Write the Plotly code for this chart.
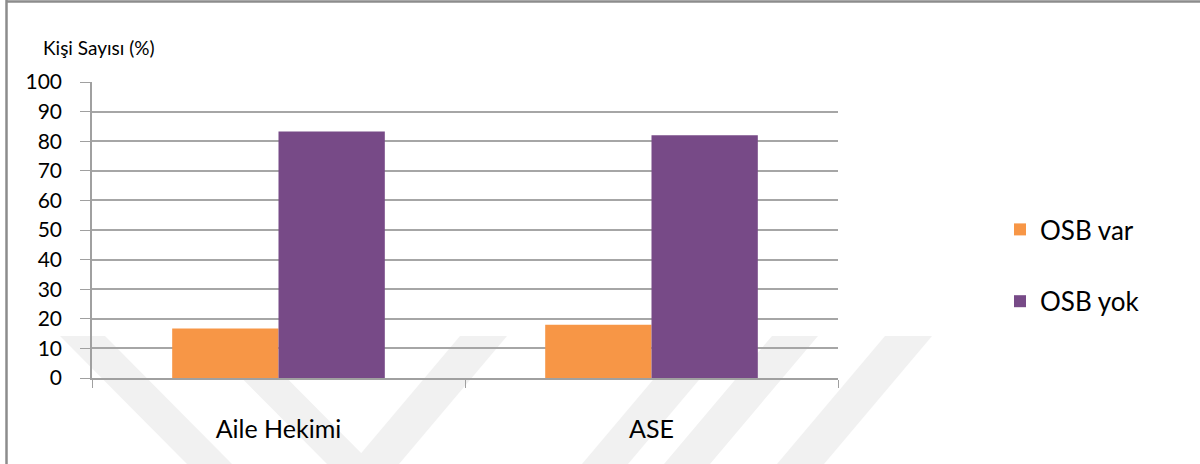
import plotly.graph_objects as go

categories = ["Aile Hekimi", "ASE"]
series_names = ["OSB var", "OSB yok"]
osb_var = [16.7, 18.0]
osb_yok = [83.3, 82.0]
y_ticks = [0, 10, 20, 30, 40, 50, 60, 70, 80, 90, 100]
colors = ["#F79646", "#774A87"]

FONT = "Lato"
W, H = 1200, 464
L, R, T, B = 92, 362, 82, 86
pw, ph = W - L - R, H - T - B

def px(x):
    return (x - L) / pw

def py(y):
    return 1 - (y - T) / ph

fig = go.Figure()
for name, vals, col, grp in zip(series_names, [osb_var, osb_yok], colors, ["a", "b"]):
    fig.add_trace(go.Bar(x=categories, y=vals, name=name, legendgroup=grp,
                         marker=dict(color=col, line=dict(width=0))))

shapes = []
# watermark chevron bands
def band(x_top, x_bot, w):
    return dict(type="path", xref="paper", yref="paper", layer="below",
                path=f"M{px(x_top)},{py(336)} L{px(x_top + w)},{py(336)} L{px(x_bot + w)},{py(464)} L{px(x_bot)},{py(464)} Z",
                fillcolor="#f1f1f1", line=dict(width=0))
shapes += [band(60, 187, 45), band(200, 327, 45), band(460, 352, 47),
           band(690, 582, 46), band(772, 664, 46), band(885, 777, 47)]
# frame lines (top and left)
shapes.append(dict(type="line", xref="paper", yref="paper", x0=px(6.5), x1=px(1200), y0=py(1.5), y1=py(1.5),
                   line=dict(color="#8c8c8c", width=2.5)))
shapes.append(dict(type="line", xref="paper", yref="paper", x0=px(6.5), x1=px(6.5), y0=py(0), y1=py(464),
                   line=dict(color="#8c8c8c", width=2.5)))

fig.update_layout(
    width=W, height=H,
    margin=dict(l=L, r=R, t=T, b=B),
    paper_bgcolor="white", plot_bgcolor="rgba(0,0,0,0)",
    barmode="group", bargap=0.43, bargroupgap=0,
    font=dict(family=FONT, color="#000000"),
    showlegend=True,
    legend=dict(x=px(1000), y=py(206), xanchor="left", yanchor="top",
                traceorder="grouped", tracegroupgap=35,
                font=dict(size=26, family=FONT, color="#000000"),
                bgcolor="rgba(0,0,0,0)"),
    xaxis=dict(showline=True, linecolor="#a0a0a0", linewidth=1.5,
               ticks="outside", tickson="boundaries", ticklen=8, tickcolor="#a0a0a0",
               tickfont=dict(size=25, family=FONT, color="#000000"),
               ticklabelstandoff=28, showgrid=False, fixedrange=True),
    yaxis=dict(range=[0, 100], tickvals=y_ticks, showline=True, linecolor="#a0a0a0", linewidth=1.5,
               ticks="outside", ticklen=10, tickcolor="#a0a0a0",
               showgrid=True, gridcolor="#a6a6a6", gridwidth=1.5, zeroline=False,
               tickfont=dict(size=21, family=FONT, color="#000000"), ticklabelstandoff=14,
               fixedrange=True),
    shapes=shapes,
    annotations=[dict(text="Kişi Sayısı (%)", xref="paper", yref="paper", x=px(41), y=py(47),
                      xanchor="left", yanchor="middle", showarrow=False,
                      font=dict(size=19, family=FONT, color="#000000"))],
)

fig.write_html("out.html", config={"displayModeBar": False},
               post_script="document.body.style.margin='0';")
